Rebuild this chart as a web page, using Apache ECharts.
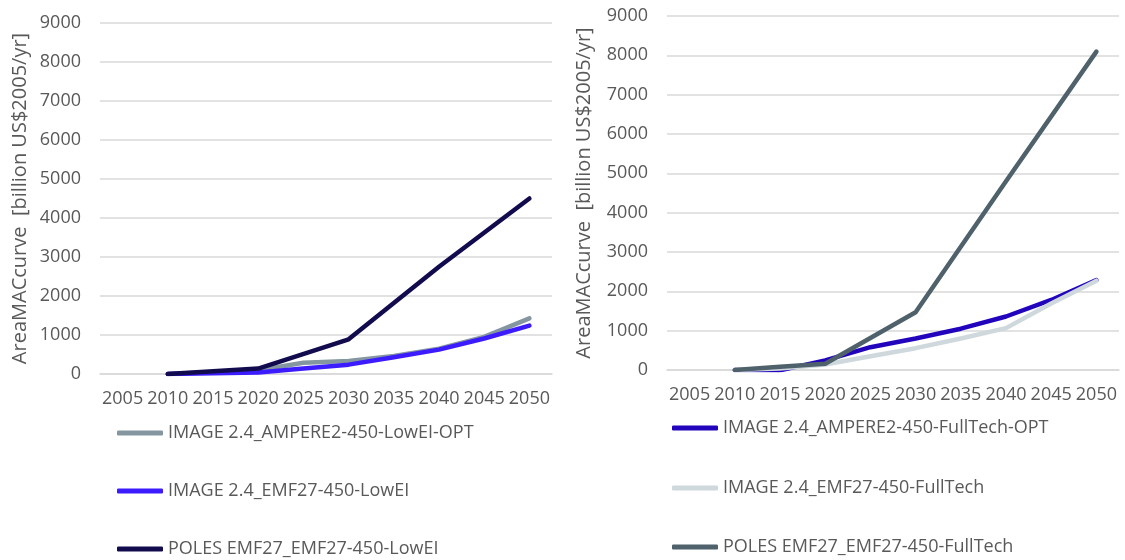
<!DOCTYPE html>
<html>
<head>
<meta charset="utf-8">
<script src="https://cdn.jsdelivr.net/npm/echarts@6/dist/echarts.min.js"></script>
<style>
html,body{margin:0;padding:0;background:#fff;}
#c{width:1125px;height:560px;}
</style>
</head>
<body>
<div id="c"></div>
<script>
const years = ['2005','2010','2015','2020','2025','2030','2035','2040','2045','2050'];
const yTicks = [0, 9000, 1000];
const axisTitle = 'AreaMACcurve  [billion US$2005/yr]';

// Left panel (LowEI)
const leftNames = ['IMAGE 2.4_AMPERE2-450-LowEI-OPT', 'IMAGE 2.4_EMF27-450-LowEI', 'POLES EMF27_EMF27-450-LowEI'];
const ampereLowEIOpt = [null, 0, null, 95, 290, 335, 460, 650, 950, 1425];
const emf27LowEI     = [null, 0, null, 40, 140, 240, 430, 625, 910, 1240];
const polesLowEI     = [null, 0, null, 140, null, 890, null, 2750, null, 4500];

// Right panel (FullTech)
const rightNames = ['IMAGE 2.4_AMPERE2-450-FullTech-OPT', 'IMAGE 2.4_EMF27-450-FullTech', 'POLES EMF27_EMF27-450-FullTech'];
const ampereFullTechOpt = [null, 0, -10, 245, 580, 800, 1050, 1360, 1780, 2285];
const emf27FullTech     = [null, 0, 40, 140, 350, 555, 800, 1065, 1690, 2270];
const polesFullTech     = [null, 0, 80, 160, null, 1470, null, 4800, null, 8095];

const leftColors = ['#8497a0', '#3c1cff', '#120c4f'];
const rightColors = ['#2204bd', '#cfd8dc', '#4f616b'];

const FONT = 'Open Sans';
const TXT = '#595959';
const GRID = '#d9d9d9';

function xAx(gi){
  return {type:'category', gridIndex:gi, data:years, boundaryGap:true,
    axisLine:{show:true, lineStyle:{color:GRID, width:1.5}}, axisTick:{show:false},
    axisLabel:{color:TXT, fontFamily:FONT, fontSize:18, margin:16, interval:0}};
}
function yAx(gi, gap){
  return {type:'value', gridIndex:gi, min:yTicks[0], max:yTicks[1], interval:yTicks[2],
    name:axisTitle, nameLocation:'middle', nameGap:gap, nameRotate:90,
    nameTextStyle:{color:TXT, fontFamily:FONT, fontSize:20},
    axisLine:{show:false}, axisTick:{show:false},
    axisLabel:{color:TXT, fontFamily:FONT, fontSize:18, margin:19, formatter:function(v){return String(v);}},
    splitLine:{lineStyle:{color:GRID, width:1.5}}};
}
function ser(name, data, color, gi){
  return {type:'line', name, data, xAxisIndex:gi, yAxisIndex:gi, connectNulls:true,
    showSymbol:false, symbol:'none', smooth:false, color,
    lineStyle:{color, width:4.5, cap:'round', join:'round'}, emphasis:{disabled:true}};
}
function leg(name, left, cy){
  return {data:[name], left, top:cy-10, icon:'roundRect', itemWidth:46, itemHeight:5, itemGap:5,
    selectedMode:false, textStyle:{color:TXT, fontFamily:FONT, fontSize:18, lineHeight:20}, padding:0};
}

const chart = echarts.init(document.getElementById('c'), null, {renderer:'canvas'});
chart.setOption({
  animation:false,
  backgroundColor:'#fff',
  grid:[
    {left:100, right:573, top:23, bottom:186},
    {left:667, right:6, top:16, bottom:190}
  ],
  xAxis:[xAx(0), xAx(1)],
  yAxis:[yAx(0, 70), yAx(1, 73)],
  legend:[
    leg(leftNames[0], 117, 433), leg(leftNames[1], 117, 491), leg(leftNames[2], 117, 549),
    leg(rightNames[0], 672, 428), leg(rightNames[1], 672, 488), leg(rightNames[2], 672, 547)
  ],
  series:[
    ser(leftNames[0], ampereLowEIOpt, leftColors[0], 0),
    ser(leftNames[1], emf27LowEI, leftColors[1], 0),
    ser(leftNames[2], polesLowEI, leftColors[2], 0),
    ser(rightNames[0], ampereFullTechOpt, rightColors[0], 1),
    ser(rightNames[1], emf27FullTech, rightColors[1], 1),
    ser(rightNames[2], polesFullTech, rightColors[2], 1)
  ]
});
</script>
</body>
</html>
